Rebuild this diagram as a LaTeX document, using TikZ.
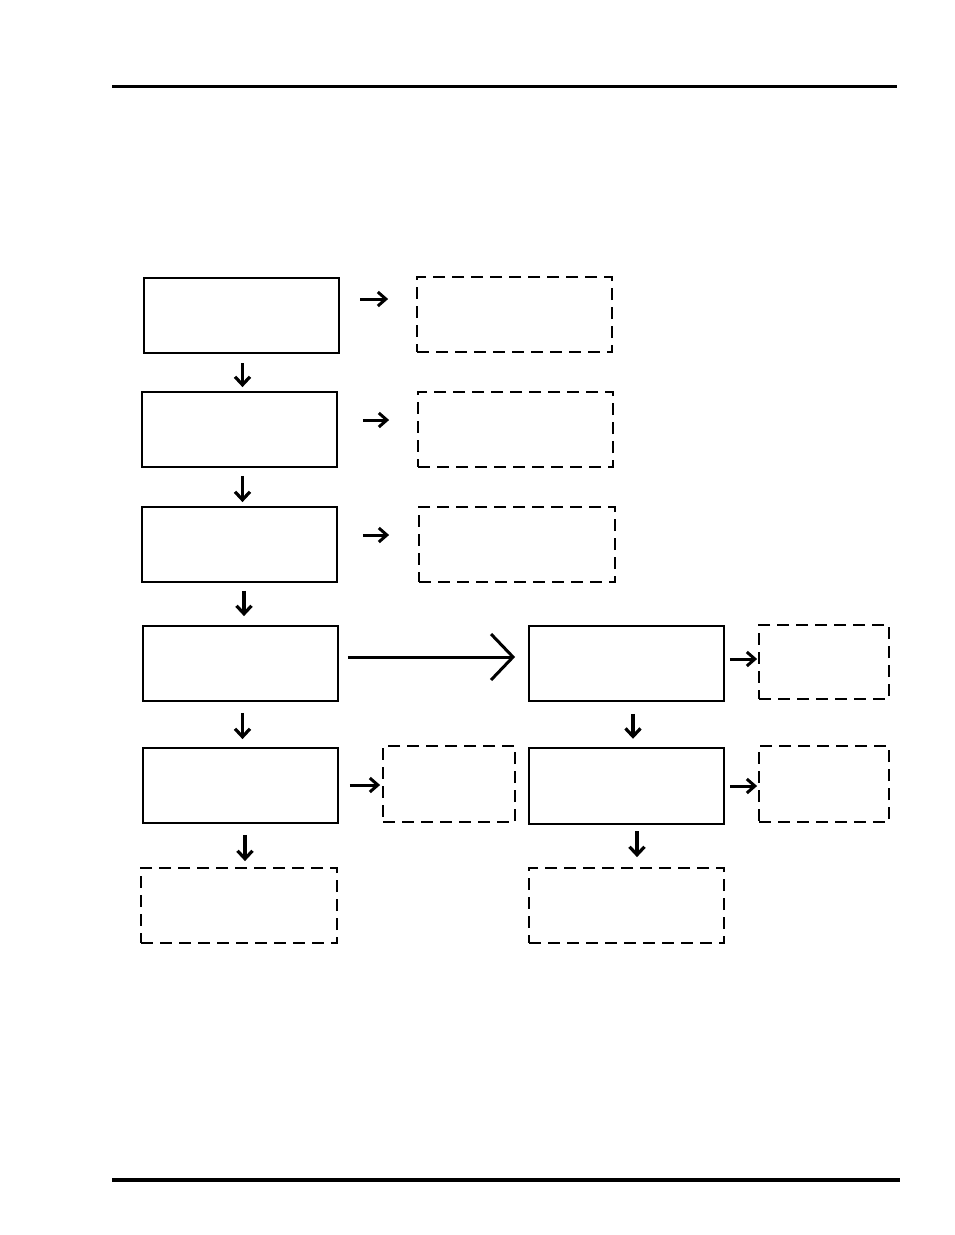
\documentclass[tikz,border=0pt]{standalone}
\usetikzlibrary{arrows.meta}
\begin{document}
\begin{tikzpicture}[x=1pt,y=-1pt,
  solidbox/.style={draw, line width=1.8pt, inner sep=0pt, minimum width=195pt, minimum height=75pt},
  dashbox/.style={draw, line width=1.8pt, dash pattern=on 12pt off 7pt, inner sep=0pt, minimum width=195pt, minimum height=75pt},
  sarr/.style={line width=3pt, -{Straight Barb[length=8pt,width=14pt]}},
  darr/.style={line width=3.2pt, -{Straight Barb[length=8pt,width=15pt]}},
  larr/.style={line width=3pt, -{Straight Barb[length=22pt,width=46pt]}}]
\useasboundingbox (0,0) rectangle (954,1235);
\fill[white] (0,0) rectangle (954,1235);
% header / footer rules
\draw[line width=3pt] (112,86) -- (897,86);
\draw[line width=4pt] (112,1180) -- (900,1180);
% left column
\node[solidbox, line width=2.5pt] (A1) at (241.5,315.5) {};
\node[solidbox] (A2) at (239.5,429.5) {};
\node[solidbox] (A3) at (239.5,544.5) {};
\node[solidbox] (A4) at (240.5,663.5) {};
\node[solidbox] (A5) at (240.5,785.5) {};
\node[dashbox, minimum width=196pt] (A6) at (239,905.5) {};
% dashed right of top column
\node[dashbox] (D1) at (514.5,314.5) {};
\node[dashbox] (D2) at (515.5,429.5) {};
\node[dashbox, minimum width=196pt] (D3) at (517,544.5) {};
% right column
\node[solidbox] (B1) at (626.5,663.5) {};
\node[solidbox, line width=2.5pt, minimum height=76pt] (B2) at (626.5,786) {};
\node[dashbox] (B3) at (626.5,905.5) {};
\node[dashbox, minimum width=130pt, minimum height=74pt] (E1) at (824,662) {};
\node[dashbox, minimum width=130pt, minimum height=76pt] (E2) at (824,784) {};
\node[dashbox, minimum width=132pt, minimum height=76pt] (F) at (449,784) {};
% horizontal arrows
\draw[sarr, shorten <=20pt, shorten >=28pt] ([yshift=16.5pt]A1.east) -- ([yshift=15.5pt]D1.west);
\draw[sarr, shorten <=25pt, shorten >=28pt] ([yshift=9.5pt]A2.east) -- ([yshift=9.5pt]D2.west);
\draw[sarr, shorten <=25pt, shorten >=29pt] ([yshift=9.5pt]A3.east) -- ([yshift=9.5pt]D3.west);
\draw[larr, shorten <=9pt, shorten >=13pt] ([yshift=6.5pt]A4.east) -- ([yshift=6.5pt]B1.west);
\draw[sarr, shorten <=5pt, shorten >=1pt] ([yshift=4.5pt]B1.east) -- ([yshift=3pt]E1.west);
\draw[sarr, shorten <=11pt, shorten >=2pt] ([yshift=0.5pt]A5.east) -- ([yshift=-1pt]F.west);
\draw[sarr, shorten <=5pt, shorten >=1pt] (B2.east) -- ([yshift=-2pt]E2.west);
% vertical arrows
\draw[darr, shorten <=9pt, shorten >=4pt] ([xshift=1pt]A1.south) -- ([xshift=3pt]A2.north);
\draw[darr, shorten <=8pt, shorten >=4pt] ([xshift=3pt]A2.south) -- ([xshift=3pt]A3.north);
\draw[darr, shorten <=8pt, shorten >=9pt] ([xshift=4.5pt]A3.south) -- ([xshift=3.5pt]A4.north);
\draw[darr, shorten <=11pt, shorten >=8pt] ([xshift=2pt]A4.south) -- ([xshift=2pt]A5.north);
\draw[darr, shorten <=11pt, shorten >=6pt] ([xshift=4.5pt]A5.south) -- ([xshift=6pt]A6.north);
\draw[darr, shorten <=12pt, shorten >=8pt] ([xshift=6.5pt]B1.south) -- ([xshift=6.5pt]B2.north);
\draw[darr, shorten <=6pt, shorten >=10pt] ([xshift=10.5pt]B2.south) -- ([xshift=10.5pt]B3.north);
\end{tikzpicture}
\end{document}
